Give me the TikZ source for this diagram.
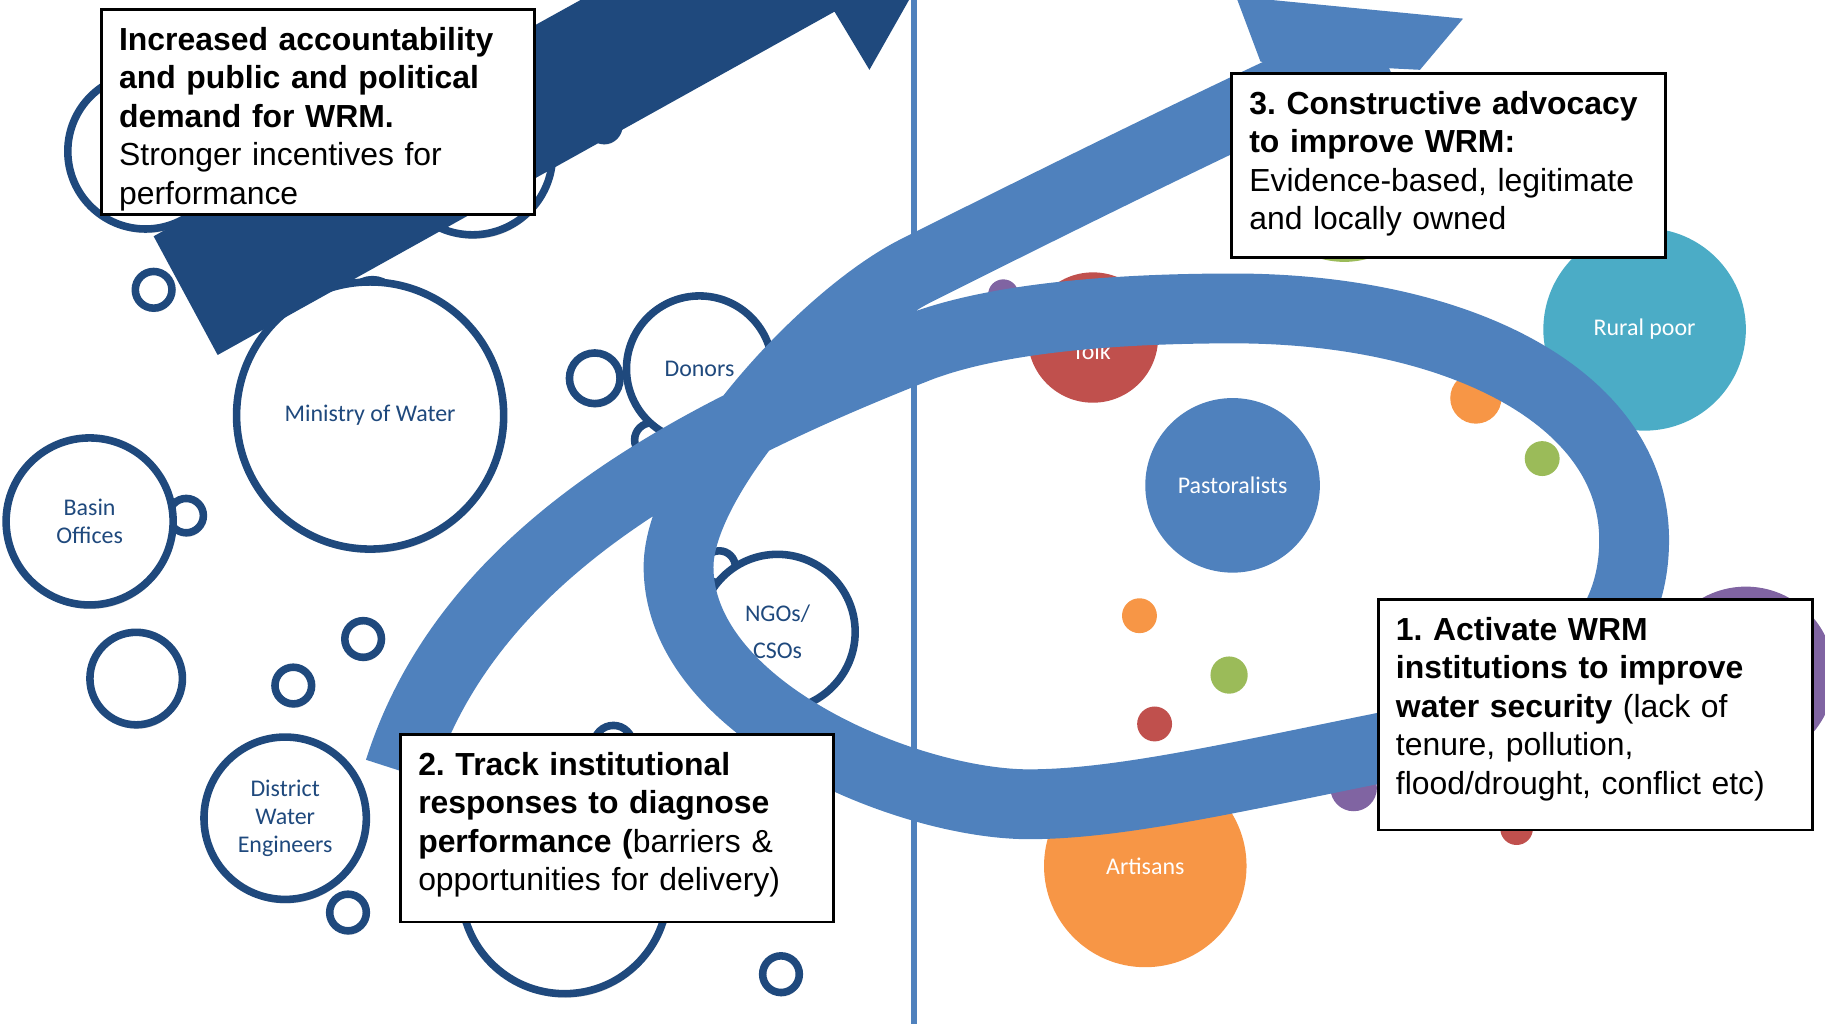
\documentclass[tikz,border=0pt]{standalone}
\usepackage{fontspec}
\setmainfont{Liberation Sans}
\newfontfamily\calibri{Carlito}
\usepackage{tikz}
\usetikzlibrary{shadows}

\definecolor{navy}{RGB}{31,73,125}
\definecolor{steel}{RGB}{79,129,189}
\definecolor{wrmteal}{RGB}{75,172,198}
\definecolor{wrmred}{RGB}{192,80,77}
\definecolor{wrmorange}{RGB}{247,150,70}
\definecolor{wrmgreen}{RGB}{155,187,89}
\definecolor{wrmpurple}{RGB}{128,100,162}

\begin{document}
\frenchspacing
\begin{tikzpicture}[x=0.2mm, y=-0.2mm,
    bubble/.style={circle, draw=navy, line width=1.3mm, fill=white, inner sep=0pt,
        minimum size=#1*0.4mm-1.3mm,
        drop shadow={opacity=0.3, shadow xshift=0.2mm, shadow yshift=-0.7mm},
        font=\calibri\fontsize{11.7}{13.5}\selectfont, text=navy, align=center},
    blob/.style={circle, inner sep=0pt, minimum size=#1*0.4mm,
        font=\calibri\fontsize{11.7}{13.5}\selectfont, text=white, align=center},
    band/.style={steel, line width=12mm, line cap=butt, line join=round},
    infobox/.style={draw=black, line width=0.45mm, fill=white, inner sep=0pt, anchor=north west},
    infotext/.style={font=\fontsize{15.6}{18.8}\selectfont, align=left, text width=#1,
        inner sep=0pt, anchor=north west}]
    \useasboundingbox (0,0) rectangle (1568,880);
    \clip (0,0) rectangle (1568,880);

    % Divider between institutions and citizens
    \coordinate (divtop) at (785,0);
    \coordinate (divbot) at (785,880);
    \draw[steel, line width=1mm] (divtop) -- (divbot);

    % Empty bubbles
    \foreach \x/\y/\r [count=\i] in {125/130/70, 406/133/72, 519/108/16, 132/249/19, 264/256/16,
        320/262/25, 511/325/25, 560/378/18, 160/443/18, 117/583/43, 312/549/19, 252/589/19,
        299/784/19, 527/640/20, 485/765/92, 671/837/19, 618/487/17} {
        \node[bubble=\r] (bub\i) at (\x,\y) {};
    }

    % Institutions
    \node[bubble=118] (ministry) at (318,357) {Ministry of Water};
    \node[bubble=66] (donors) at (601,317) {Donors};
    \node[bubble=75] (basin) at (77,448) {Basin\\Offices};
    \node[bubble=73] (district) at (245,703) {District\\Water\\Engineers};
    \node[bubble=70] (ngos) at (668,543) {NGOs/\\[1.6mm]CSOs};

    % Citizen groups
    \foreach \c/\x/\y/\r [count=\i] in {wrmpurple/862/253/13, wrmgreen/1155/150/75,
        wrmorange/1268/342/22, wrmgreen/1325/394/15, wrmorange/979/529/15, wrmgreen/1056/580/16,
        wrmred/992/622/15, wrmpurple/1500/580/76, wrmpurple/1163/677/20, wrmred/1303/712/14} {
        \node[blob=\r, fill=\c] (dot\i) at (\x,\y) {};
    }
    \node[blob=56, fill=wrmred] (folk) at (939,290) {};
    \node[blob=0, anchor=base] (folklabel) at (939,309) {folk};
    \node[blob=87, fill=wrmteal] (rural) at (1413,283) {Rural poor};
    \node[blob=75, fill=steel] (pastoral) at (1059,417) {Pastoralists};
    \node[blob=87, fill=wrmorange] (artisans) at (984,744) {Artisans};

    % Demand arrow
    \fill[navy] (132,203) -- (187,305) -- (717,10) -- (747,60) -- (798,-30) -- (553,-30) -- cycle;

    % Spiral arrow
    \draw[band] (343,662) .. controls (403,472) and (599,374) .. (785,300)
        .. controls (859,270) and (980,265) .. (1060,265)
        .. controls (1250,265) and (1404,340) .. (1404,464)
        .. controls (1404,580) and (1292,621) .. (1184,643)
        .. controls (1060,668) and (960,691) .. (884,691)
        .. controls (780,691) and (583,610) .. (583,487)
        .. controls (583,410) and (708,272) .. (788,232)
        .. controls (920,166) and (1053,100) .. (1185,40);
    \fill[steel] (1083,53) -- (1062,-3) -- (1257,16) -- (1220,60) -- cycle;

    % Text boxes
    \node[infobox, minimum width=74.4mm, minimum height=35.2mm] (demandbox) at (86,7) {};
    \node[infotext=70mm] (demandtext) at ([shift={(16,16)}]demandbox.north west)
        {\bfseries Increased accountability\\ and public and political\\ demand for WRM.\\
         \mdseries Stronger incentives for\\ performance};

    \node[infobox, minimum width=74.6mm, minimum height=31.6mm] (advocacybox) at (1057,62) {};
    \node[infotext=70mm] (advocacytext) at ([shift={(16,16)}]advocacybox.north west)
        {\bfseries 3. Constructive advocacy\\ to improve WRM:\\
         \mdseries Evidence-based, legitimate\\ and locally owned};

    \node[infobox, minimum width=74.4mm, minimum height=32.2mm] (trackbox) at (343,630) {};
    \node[infotext=70mm] (tracktext) at ([shift={(16,16)}]trackbox.north west)
        {\bfseries 2. Track institutional\\ responses to diagnose\\ performance (\mdseries barriers \&\\
         opportunities for delivery)};

    \node[infobox, minimum width=74.6mm, minimum height=39.6mm] (activatebox) at (1183,514) {};
    \node[infotext=70mm] (activatetext) at ([shift={(16,16)}]activatebox.north west)
        {\bfseries 1. Activate WRM\\ institutions to improve\\ water security \mdseries (lack of\\
         tenure, pollution,\\ flood/drought, conflict etc)};
\end{tikzpicture}
\end{document}
